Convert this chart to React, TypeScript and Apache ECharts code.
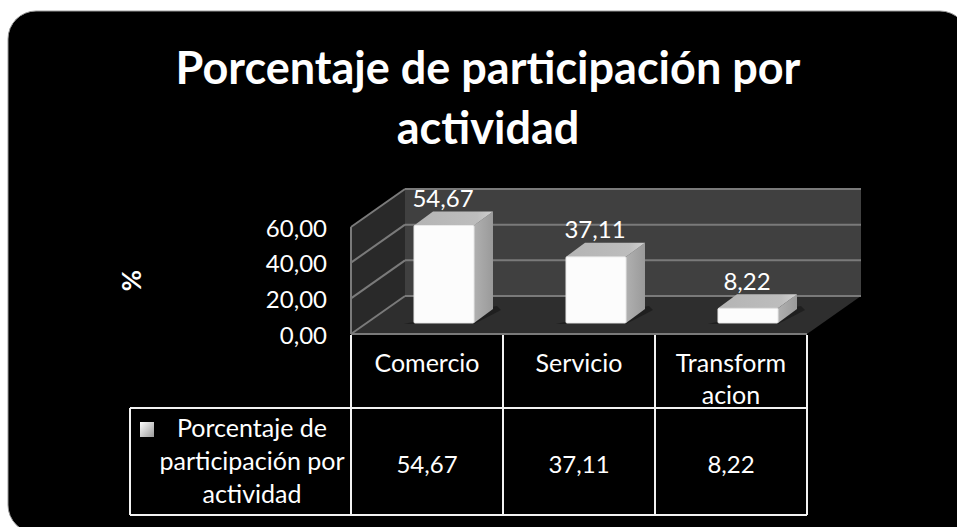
import React, { useEffect, useRef } from "react";
import * as echarts from "echarts";

const chartTitle = "Porcentaje de participación por\nactividad";
const categories = ["Comercio", "Servicio", "Transform\nacion"];
const values = [54.67, 37.11, 8.22];
const yTicks = [0, 20, 40, 60];
const yName = "%";
const legendName = "Porcentaje de\nparticipación por\nactividad";

const FONT = "Lato, 'Noto Sans', sans-serif";
const fmt = (v: number) => v.toFixed(2).replace(".", ",");

const G = { left: 351, top: 227, width: 456, height: 107 };
const WALL_DX = 54;
const WALL_DY = 38;
const BAR_W = 60;
const BAR_OX = 17;
const BAR_OY = 11;
const D_X = 19;
const D_Y = 14;
const LINE = "#7a7a7a";
const TABLE_LINE = "#f2f2f2";
const ROW_Y = 408;
const TABLE_BOTTOM = 515;
const TABLE_LEFT = 130;
const COLS = [351, 503, 655, 807];

const poly = (points: number[][], fill: any, z2 = 0) => ({
  type: "polygon",
  shape: { points },
  style: { fill },
  z2,
});

const tableLine = (x1: number, y1: number, x2: number, y2: number) => ({
  type: "line",
  shape: { x1, y1, x2, y2 },
  style: { stroke: TABLE_LINE, lineWidth: 2 },
  z: 5,
});

export default function App() {
  const ref = useRef<HTMLDivElement>(null);
  useEffect(() => {
    document.body.style.margin = "0";
    const chart = echarts.init(ref.current!, null, { renderer: "svg" });
    chart.setOption({
      animation: false,
      title: {
        text: chartTitle,
        left: 483,
        top: 32,
        textAlign: "center",
        textStyle: { color: "#fff", fontFamily: FONT, fontWeight: "bold", fontSize: 45, lineHeight: 60 },
      },
      grid: { ...G, containLabel: false },
      xAxis: {
        type: "category",
        data: categories,
        axisLine: { show: false },
        axisTick: { show: false },
        axisLabel: { color: "#fff", fontFamily: FONT, fontSize: 25, lineHeight: 32, margin: 12, interval: 0 },
      },
      yAxis: {
        type: "value",
        min: 0,
        max: 60,
        interval: 20,
        name: yName,
        nameLocation: "middle",
        nameGap: 207,
        nameRotate: 90,
        nameTextStyle: { color: "#fff", fontFamily: FONT, fontWeight: "bold", fontSize: 26 },
        axisLine: { show: false },
        axisTick: { show: false },
        splitLine: { show: false },
        axisLabel: { color: "#fff", fontFamily: FONT, fontSize: 24, margin: 24, padding: [6, 0, 0, 0], formatter: (v: number) => fmt(v) },
      },
      series: [
        {
          type: "custom",
          name: "walls",
          silent: true,
          clip: false,
          z: 1,
          data: [[0, 0]],
          renderItem: (params: any) => {
            const c = params.coordSys;
            const L = c.x, R = c.x + c.width, T = c.y, B = c.y + c.height;
            return {
              type: "group",
              children: [
                poly([[L + WALL_DX, T - WALL_DY], [R + WALL_DX, T - WALL_DY], [R + WALL_DX, B - WALL_DY], [L + WALL_DX, B - WALL_DY]], "#404040"),
                poly([[L, T], [L + WALL_DX, T - WALL_DY], [L + WALL_DX, B - WALL_DY], [L, B]], "#292929"),
                poly([[L, B], [L + WALL_DX, B - WALL_DY], [R + WALL_DX, B - WALL_DY], [R, B]], "#2e2e2e"),
                {
                  type: "line",
                  shape: { x1: L, y1: T, x2: L, y2: B },
                  style: { stroke: LINE, lineWidth: 2 },
                },
                {
                  type: "line",
                  shape: { x1: L, y1: B, x2: R, y2: B },
                  style: { stroke: LINE, lineWidth: 2 },
                },
              ],
            };
          },
        },
        {
          type: "custom",
          name: "gridlines",
          silent: true,
          clip: false,
          z: 2,
          data: yTicks.map((t) => [0, t]),
          renderItem: (params: any, api: any) => {
            const c = params.coordSys;
            const y = api.coord([0, api.value(1)])[1];
            const style = { stroke: LINE, lineWidth: 2 };
            return {
              type: "group",
              children: [
                { type: "line", shape: { x1: c.x, y1: y, x2: c.x + WALL_DX, y2: y - WALL_DY }, style },
                { type: "line", shape: { x1: c.x + WALL_DX, y1: y - WALL_DY, x2: c.x + c.width + WALL_DX, y2: y - WALL_DY }, style },
              ],
            };
          },
        },
        {
          type: "custom",
          name: "Porcentaje de participación por actividad",
          silent: true,
          clip: false,
          z: 3,
          data: values.map((v, i) => [i, v]),
          renderItem: (_p: any, api: any) => {
            const v = api.value(1) as number;
            const [cx, yTop] = api.coord([api.value(0), v]);
            const [, yBase] = api.coord([api.value(0), 0]);
            const x0 = cx + BAR_OX - BAR_W / 2;
            const x1 = x0 + BAR_W;
            const y0 = yTop - BAR_OY;
            const y1 = yBase - BAR_OY;
            const side = new echarts.graphic.LinearGradient(0, 0, 1, 0, [
              { offset: 0, color: "#b0b0b0" },
              { offset: 1, color: "#9a9a9a" },
            ]);
            const top = new echarts.graphic.LinearGradient(0, 0, 1, 0, [
              { offset: 0, color: "#b4b4b4" },
              { offset: 0.8, color: "#bdbdbd" },
              { offset: 1, color: "#d0d0d0" },
            ]);
            return {
              type: "group",
              children: [
                poly([[x0 - 10, y1 + 1], [x1, y1 + 1], [x1 + D_X + 8, y1 - D_Y + 1], [x1 + D_X + 4, y1 - D_Y - 3], [x0 + 8, y1 - 3]], "#1f1f1f"),
                poly([[x1, y0], [x1 + D_X, y0 - D_Y], [x1 + D_X, y1 - D_Y], [x1, y1]], side),
                poly([[x0, y0], [x0 + D_X, y0 - D_Y], [x1 + D_X, y0 - D_Y], [x1, y0]], top),
                {
                  type: "rect",
                  shape: { x: x0, y: y0, width: BAR_W, height: y1 - y0, r: 1 },
                  style: { fill: "#fcfcfc", stroke: "#e8e8e8", lineWidth: 1 },
                },
                {
                  type: "text",
                  style: {
                    text: fmt(v),
                    x: cx + BAR_OX - 1,
                    y: y0 - D_Y - 14,
                    fill: "#fff",
                    font: `24px ${FONT}`,
                    align: "center",
                    verticalAlign: "middle",
                  },
                },
              ],
            };
          },
        },
      ],
      graphic: [
        {
          type: "rect",
          z: -10,
          shape: { x: 8, y: 11, width: 960, height: 522, r: 28 },
          style: { fill: "#000", stroke: "#9a9a9a", lineWidth: 1 },
        },
        ...COLS.map((x) => tableLine(x, 335, x, TABLE_BOTTOM)),
        tableLine(TABLE_LEFT, ROW_Y, COLS[3], ROW_Y),
        tableLine(TABLE_LEFT, TABLE_BOTTOM, COLS[3], TABLE_BOTTOM),
        tableLine(TABLE_LEFT, ROW_Y, TABLE_LEFT, TABLE_BOTTOM),
        {
          type: "rect",
          z: 5,
          shape: { x: 140, y: 422, width: 14, height: 15 },
          style: {
            fill: new echarts.graphic.LinearGradient(0, 0, 1, 1, [
              { offset: 0, color: "#ffffff" },
              { offset: 1, color: "#9a9a9a" },
            ]),
          },
        },
        {
          type: "text",
          z: 5,
          x: 252,
          y: 460,
          style: {
            text: legendName,
            fill: "#fff",
            font: `25px ${FONT}`,
            lineHeight: 33,
            align: "center",
            verticalAlign: "middle",
          },
        },
        ...values.map((v, i) => ({
          type: "text",
          z: 5,
          x: (COLS[i] + COLS[i + 1]) / 2,
          y: 463,
          style: {
            text: fmt(v),
            fill: "#fff",
            font: `24px ${FONT}`,
            align: "center",
            verticalAlign: "middle",
          },
        })),
      ],
    });
    return () => chart.dispose();
  }, []);
  return <div ref={ref} style={{ position: "absolute", left: 0, top: 0, width: 957, height: 527, background: "#fff", overflow: "hidden" }} />;
}
